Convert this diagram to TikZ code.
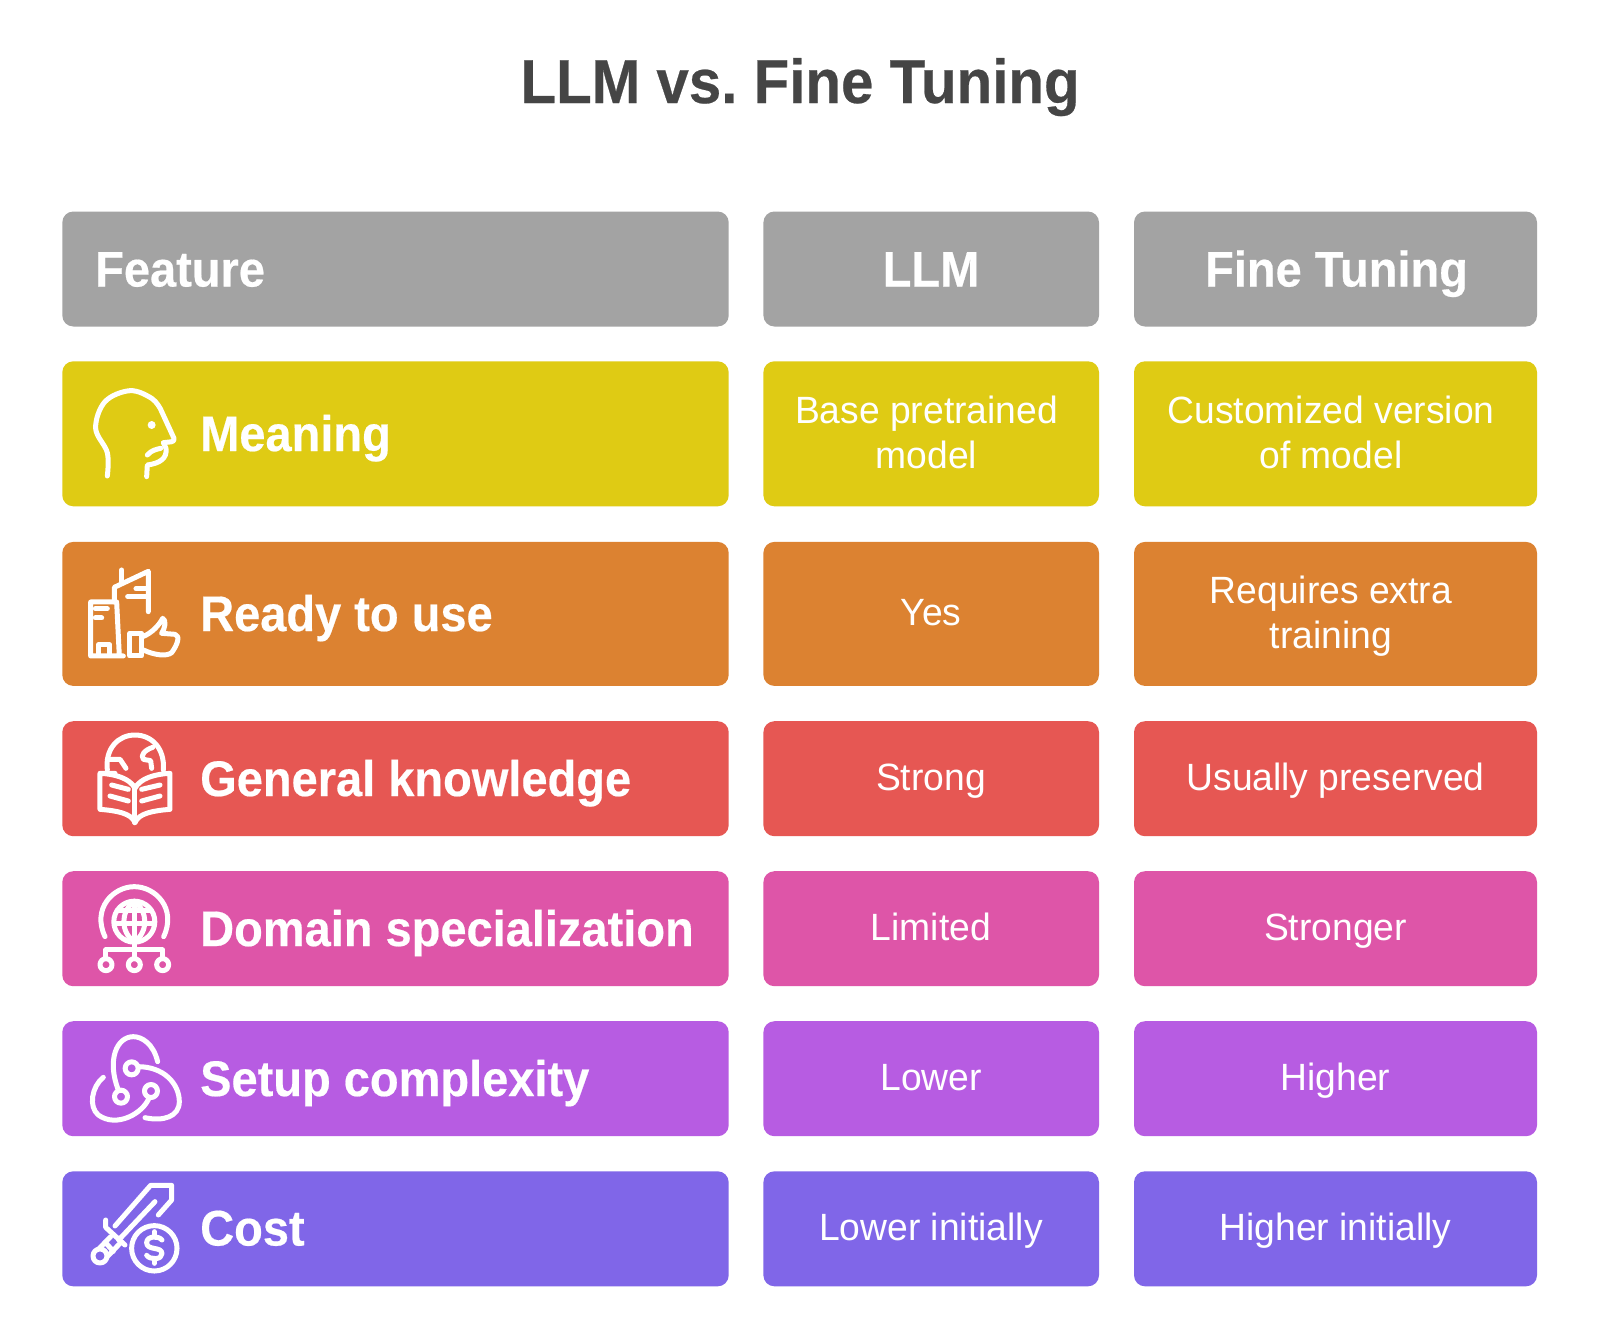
\documentclass[tikz,border=0pt]{standalone}
\usepackage{fontspec}
\setmainfont{Liberation Sans}[FakeStretch=0.98,BoldFeatures={FakeStretch=0.94,FakeBold=0.4}]
\newcommand{\fsz}[1]{\fontsize{#1}{#1}\selectfont\frenchspacing}
\definecolor{cgray}{HTML}{A3A3A3}
\definecolor{cyellow}{HTML}{DFCB14}
\definecolor{corange}{HTML}{DC8231}
\definecolor{cred}{HTML}{E65753}
\definecolor{cpink}{HTML}{DE55A8}
\definecolor{cpurple}{HTML}{B75CE2}
\definecolor{cviolet}{HTML}{8066E8}
\definecolor{ctitle}{HTML}{454545}
\tikzset{
  cell/.style={rounded corners=11pt,inner sep=0pt,outer sep=0pt,draw=none,minimum height=#1},
  colA/.style={minimum width=666.4pt},
  colB/.style={minimum width=335.6pt},
  colC/.style={minimum width=403pt},
  head/.style={text=white,inner sep=0pt,anchor=base west,font=\fsz{50}\bfseries},
  headc/.style={text=white,inner sep=0pt,anchor=base,font=\fsz{50}\bfseries},
  val/.style={text=white,inner sep=0pt,anchor=base,font=\fsz{38}},
  ico/.style={draw=white,line width=5pt,line cap=round,line join=round},
  icos/.style={x=0.3333pt,y=-0.3333pt,ico}
}
\begin{document}
\begin{tikzpicture}[x=1pt,y=-1pt]
\useasboundingbox[fill=white] (0,0) rectangle (1600,1342);
\node[text=ctitle,inner sep=0pt,anchor=base,font=\fsz{62}\bfseries] (title) at (800,103) {LLM vs. Fine Tuning};
\newcommand{\rowboxes}[5]{%
  \node[cell=#3pt,colA,fill=#4] (#1a) at (395.5,#2) {};
  \node[cell=#3pt,colB,fill=#4] (#1b) at (931.2,#2) {};
  \node[cell=#3pt,colC,fill=#4] (#1c) at (1335.5,#2) {};
}
\rowboxes{h}{269}{115}{cgray}{}
\rowboxes{m}{433.8}{145}{cyellow}{}
\rowboxes{r}{613.9}{144}{corange}{}
\rowboxes{g}{778.7}{115}{cred}{}
\rowboxes{d}{928.7}{115}{cpink}{}
\rowboxes{s}{1078.7}{115}{cpurple}{}
\rowboxes{k}{1228.8}{115}{cviolet}{}

\node[head] (tf) at (95,286.5) {Feature};
\node[headc] (tl) at (931,286.5) {LLM};
\node[headc] (tt) at (1336.5,286.5) {Fine Tuning};

\node[head] (t1) at (200,451) {Meaning};
\node[head] (t2) at (200,631) {Ready to use};
\node[head] (t3) at (200,796) {General knowledge};
\node[head] (t4) at (200,946) {Domain specialization};
\node[head] (t5) at (200,1096) {Setup complexity};
\node[head] (t6) at (200,1245.5) {Cost};

\node[val] (v1a) at (926.5,423) {Base pretrained};
\node[val] (v1b) at (926.5,468) {model};
\node[val] (v2a) at (1331,423) {Customized version};
\node[val] (v2b) at (1331,468) {of model};
\node[val] (v3) at (931,625.5) {Yes};
\node[val] (v4a) at (1331,603) {Requires extra};
\node[val] (v4b) at (1331,648) {training};
\node[val] (v5) at (931,790.5) {Strong};
\node[val] (v6) at (1335.5,790.5) {Usually preserved};
\node[val] (v7) at (931,940.5) {Limited};
\node[val] (v8) at (1335.5,940.5) {Stronger};
\node[val] (v9) at (931,1090.5) {Lower};
\node[val] (v10) at (1335.5,1090.5) {Higher};
\node[val] (v11) at (931,1240.5) {Lower initially};
\node[val] (v12) at (1335.5,1240.5) {Higher initially};

% Icon: head
\begin{scope}[shift={(60,370)},icos]
\draw plot[smooth,tension=.6] coordinates {(142,318) (142,248) (107,175) (135,95) (210,62) (275,85) (302,118)} -- (342,205) .. controls (345,218) and (330,215) .. (310,218) -- (318,235) .. controls (322,265) and (300,280) .. (262,285) -- (260,320);
\draw (262,255) .. controls (275,240) and (290,238) .. (302,235);
\fill[white,draw=none] (275,165) circle (4pt);
\end{scope}
% Icon: buildings and thumb
\begin{scope}[shift={(60,370)},icos]
\draw (190,858) -- (92,858) -- (92,696) -- (170,696) -- (178,858);
\draw (106,716) -- (142,716) (106,744) -- (125,744);
\draw (115,856) -- (115,825) -- (150,825) -- (150,856);
\draw (163,696) -- (163,652) -- (265,604) -- (265,725);
\draw (185,600) -- (185,637);
\draw (203,680) -- (265,680) (228,656) -- (265,656);
\draw (209,790) rectangle (245,858);
\draw (248,800) .. controls (275,790) and (298,765) .. (308,745) .. controls (320,750) and (315,775) .. (305,790) -- (345,793) .. controls (362,797) and (352,825) .. (335,848) .. controls (320,860) and (285,856) .. (250,840);
\end{scope}
% Icon: book and globe
\begin{scope}[shift={(60,720)},icos]
\draw (142,150) .. controls (135,85) and (175,45) .. (225,45) .. controls (275,45) and (315,85) .. (310,150);
\draw (142,118) -- (180,118) -- (198,145);
\draw (278,82) .. controls (255,90) and (240,105) .. (250,118) -- (272,122) -- (275,145);
\draw (165,160) -- (120,160) -- (120,268) .. controls (170,272) and (215,280) .. (225,308) .. controls (235,280) and (280,272) .. (330,268) -- (330,160) .. controls (285,162) and (240,175) .. (225,205) .. controls (210,175) and (165,162) .. (120,160);
\draw (225,205) -- (225,308);
\draw (155,195) -- (205,208) (150,228) -- (205,243) (245,208) -- (300,195) (245,243) -- (300,228);
\end{scope}
% Icon: globe network
\begin{scope}[shift={(60,720)},icos]
\draw (135,650) .. controls (95,565) and (160,500) .. (223,500) .. controls (286,500) and (351,565) .. (311,650);
\draw (223,605) circle (20.5pt);
\draw (223,544) .. controls (181,575) and (181,635) .. (223,666) .. controls (265,635) and (265,575) .. (223,544);
\draw (223,544) -- (223,690);
\draw (172,572) -- (274,572) (164,610) -- (282,610);
\draw (138,715) -- (138,690) -- (308,690) -- (308,715) (223,690) -- (223,715);
\draw (138,734) circle (6pt) (223,734) circle (6pt) (308,734) circle (6pt);
\end{scope}
% Icon: knot
\begin{scope}[shift={(60,1020)},icos]
\draw (215,145) circle (6.5pt) (183,230) circle (6.5pt) (273,213) circle (6.5pt);
\draw (293,125) .. controls (280,70) and (245,50) .. (220,50) .. controls (170,50) and (140,120) .. (175,210);
\draw (235,140) .. controls (310,140) and (358,190) .. (358,245) .. controls (358,290) and (310,305) .. (255,293);
\draw (130,172) .. controls (95,200) and (85,260) .. (115,285) .. controls (170,325) and (250,280) .. (268,232);
\end{scope}
% Icon: sword and coin
\begin{scope}[shift={(60,1020)},icos]
\draw (165,618) -- (272,496) -- (335,496) -- (335,540) -- (295,585);
\draw (285,545) -- (176,660);
\draw (137,600) -- (137,622) -- (195,675);
\draw (118,685) -- (152,650);
\draw (142,710) -- (182,668);
\draw (136,667) -- (160,694);
\draw (120,708) circle (7pt);
\draw (283,685) circle (22.7pt);
\draw (306,660) .. controls (295,646) and (260,648) .. (260,668) .. controls (260,693) and (306,678) .. (306,701) .. controls (306,720) and (270,720) .. (260,706);
\draw (283,635) -- (283,647) (283,718) -- (283,730);
\end{scope}
\end{tikzpicture}
\end{document}
